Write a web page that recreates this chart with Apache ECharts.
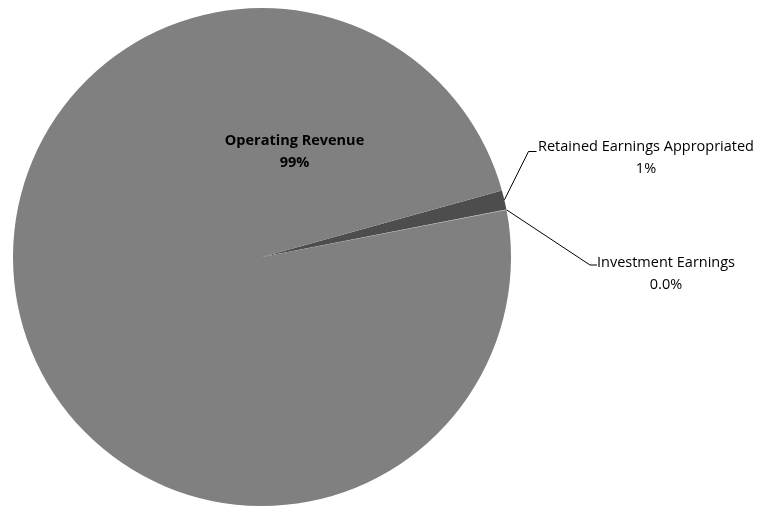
<!DOCTYPE html>
<html>
<head>
<meta charset="utf-8">
<script src="https://cdn.jsdelivr.net/npm/echarts@6/dist/echarts.min.js"></script>
<style>
  html, body { margin: 0; padding: 0; background: #ffffff; }
  #chart { width: 757px; height: 506px; }
</style>
</head>
<body>
<div id="chart"></div>
<script>
// Revenue sources (share of total, in percent)
const categories = ['Retained Earnings Appropriated', 'Investment Earnings', 'Operating Revenue'];
const values = [1.25, 0.04, 98.71];
// decimals shown in each slice's percentage label
const labelDecimals = [0, 1, 0];
const sliceColors = ['#4d4d4d', '#a6a6a6', '#808080'];

const total = values.reduce((a, b) => a + b, 0);

const chart = echarts.init(document.getElementById('chart'), null, { renderer: 'canvas' });

const labelFont = {
  fontFamily: '"Open Sans", "DejaVu Sans", sans-serif',
  fontSize: 14.5,
  lineHeight: 22,
  color: '#000000'
};

chart.setOption({
  backgroundColor: '#ffffff',
  animation: false,
  series: [{
    type: 'pie',
    center: [262, 257],
    radius: 249,
    startAngle: 15.5,
    clockwise: true,
    avoidLabelOverlap: false,
    minShowLabelAngle: 0,
    silent: true,
    itemStyle: { borderWidth: 0 },
    emphasis: { disabled: true },
    label: Object.assign({
      show: true,
      position: 'outside',
      align: 'center',
      formatter: function (p) {
        const pct = (p.value / total * 100).toFixed(labelDecimals[p.dataIndex]);
        return p.name + '\n' + pct + '%';
      }
    }, labelFont),
    labelLine: {
      show: true,
      length: 20,
      length2: 10,
      lineStyle: { color: '#000000', width: 1 }
    },
    labelLayout: function (p) {
      const start = p.labelLinePoints ? p.labelLinePoints[0] : [0, 0];
      if (p.dataIndex === 2) {
        return { x: 294.5, y: 152, align: 'center', verticalAlign: 'middle', hideOverlap: false };
      }
      if (p.dataIndex === 0) {
        return {
          x: 646, y: 158, align: 'center', verticalAlign: 'middle', hideOverlap: false,
          labelLinePoints: [start, [528.5, 151.5], [536.5, 151.5]]
        };
      }
      return {
        x: 666, y: 273.5, align: 'center', verticalAlign: 'middle', hideOverlap: false,
        labelLinePoints: [start, [590, 265], [597, 265]]
      };
    },
    data: categories.map((name, i) => {
      const item = { name: name, value: values[i], itemStyle: { color: sliceColors[i] } };
      if (name === 'Operating Revenue') {
        item.label = { position: 'inside', fontWeight: 'bold' };
        item.labelLine = { show: false };
      }
      return item;
    })
  }]
});
</script>
</body>
</html>
